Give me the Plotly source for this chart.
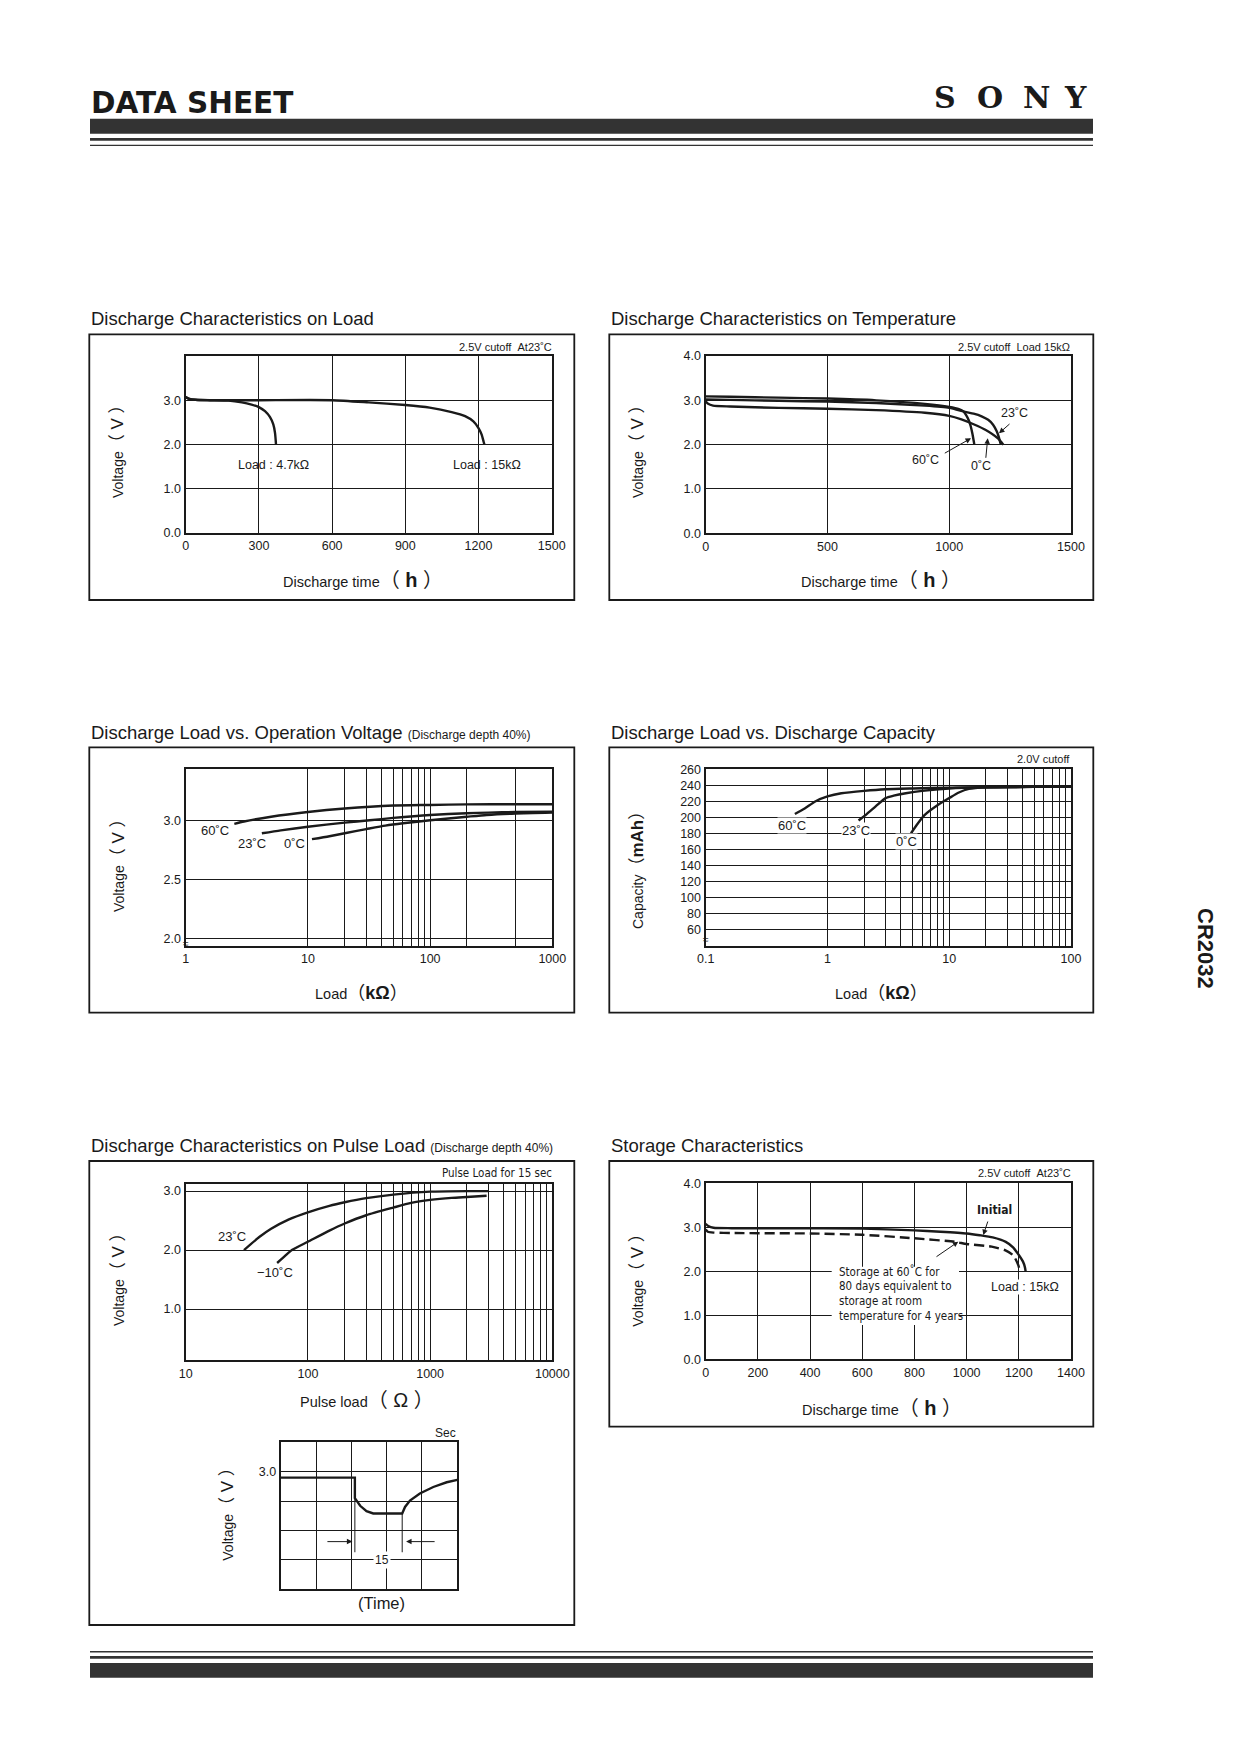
import plotly.graph_objects as go

# ------------------------------------------------------------------ data
# 1. Discharge Characteristics on Load (2.5V cutoff, 23C)
load_time_ticks = [0, 300, 600, 900, 1200, 1500]
load_volt_ticks = [0.0, 1.0, 2.0, 3.0]
load47_time = [0, 15, 40, 100, 175, 230, 270, 298, 325, 345, 359, 366, 369, 370]
load47_volt = [3.07, 3.03, 3.01, 3.0, 2.99, 2.95, 2.90, 2.85, 2.75, 2.62, 2.45, 2.26, 2.08, 2.0]
load15_time = [0, 15, 40, 100, 300, 600, 750, 900, 1000, 1090, 1145, 1179, 1200, 1213, 1221, 1224]
load15_volt = [3.07, 3.03, 3.01, 3.0, 3.0, 3.0, 2.95, 2.89, 2.83, 2.73, 2.64, 2.52, 2.37, 2.22, 2.06, 2.0]

# 2. Discharge Characteristics on Temperature (15k ohm)
temp_time_ticks = [0, 500, 1000, 1500]
temp_volt_ticks = [0.0, 1.0, 2.0, 3.0, 4.0]
t60_time = [0, 100, 300, 500, 700, 900, 1000, 1040, 1058, 1070, 1080, 1088, 1095, 1100, 1103]
t60_volt = [3.09, 3.08, 3.06, 3.04, 3.0, 2.92, 2.85, 2.80, 2.75, 2.66, 2.55, 2.42, 2.25, 2.10, 2.0]
t23_time = [0, 100, 300, 500, 700, 900, 1000, 1065, 1100, 1133, 1160, 1180, 1195, 1203, 1208, 1212]
t23_volt = [3.02, 3.01, 2.99, 2.97, 2.94, 2.88, 2.83, 2.74, 2.70, 2.64, 2.56, 2.45, 2.30, 2.18, 2.08, 2.0]
t0_time = [0, 10, 30, 100, 300, 500, 700, 900, 1000, 1050, 1100, 1150, 1200, 1222]
t0_volt = [2.98, 2.92, 2.88, 2.86, 2.83, 2.81, 2.78, 2.72, 2.65, 2.57, 2.46, 2.33, 2.14, 2.0]

# 3. Discharge Load vs. Operation Voltage (kOhm)
opv_load_ticks = [1, 10, 100, 1000]
opv_load_grid = [20, 30, 40, 50, 60, 70, 80, 90, 200, 500]
opv_volt_ticks = [2.0, 2.5, 3.0]
opv60_load = [2.5, 3, 5, 10, 20, 50, 100, 200, 500, 1000]
opv60_volt = [2.97, 2.99, 3.03, 3.07, 3.10, 3.125, 3.13, 3.135, 3.136, 3.136]
opv23_load = [4.2, 6, 10, 20, 32, 50, 100, 200, 300, 500, 1000]
opv23_volt = [2.89, 2.915, 2.945, 2.98, 3.0, 3.02, 3.045, 3.06, 3.065, 3.07, 3.072]
opv0_load = [10.8, 15, 20, 30, 43, 60, 100, 200, 290, 500, 1000]
opv0_volt = [2.84, 2.865, 2.89, 2.925, 2.955, 2.975, 3.0, 3.03, 3.045, 3.057, 3.065]

# 4. Discharge Load vs. Discharge Capacity (kOhm, mAh)
cap_load_ticks = [0.1, 1, 10, 100]
cap_load_grid = [2, 3, 4, 5, 6, 7, 8, 9, 20, 30, 40, 50, 60, 70, 80, 90]
cap_ticks = [60, 80, 100, 120, 140, 160, 180, 200, 220, 240, 260]
cap60_load = [0.54, 0.65, 0.8, 1.0, 1.3, 2, 3, 5, 10, 20, 50, 100]
cap60_mah = [204, 211, 220, 226, 230, 233, 235, 236, 237, 237.5, 238, 238]
cap23_load = [1.8, 2.1, 2.5, 3.0, 3.5, 4.4, 6, 10, 20, 50, 100]
cap23_mah = [196, 204, 214, 224, 227, 230, 233, 236, 237.5, 238, 238]
cap0_load = [4.85, 5.5, 6.3, 8, 10, 12, 14.5, 20, 50, 100]
cap0_mah = [180, 192, 203, 215, 224, 231, 235.5, 237.5, 238, 238]

# 5. Discharge Characteristics on Pulse Load (Ohm)
pulse_load_ticks = [10, 100, 1000, 10000]
pulse_load_grid = [200, 300, 400, 500, 600, 700, 800, 900,
                   2000, 3000, 4000, 5000, 6000, 7000, 8000, 9000]
pulse_volt_ticks = [1.0, 2.0, 3.0]
pulse23_load = [30, 40, 50, 70, 100, 150, 200, 300, 500, 1000, 2000, 3000]
pulse23_volt = [2.0, 2.22, 2.36, 2.52, 2.64, 2.75, 2.81, 2.88, 2.94, 2.99, 3.0, 3.0]
pulsem10_load = [56, 65, 74, 100, 150, 200, 300, 500, 700, 1000, 1500, 2000, 2900]
pulsem10_volt = [1.78, 1.90, 2.0, 2.14, 2.33, 2.45, 2.59, 2.72, 2.80, 2.85, 2.885, 2.90, 2.92]

# 5b. pulse waveform inset (grid divisions, V)
wave_div = [0, 2.1, 2.1, 2.25, 2.43, 2.62, 3.44, 3.52, 3.66, 3.94, 4.32, 4.70, 5.0]
wave_volt = [2.9, 2.9, 2.55, 2.42, 2.33, 2.29, 2.29, 2.40, 2.51, 2.63, 2.74, 2.82, 2.86]
wave_volt_ticks = [1.5, 2.0, 2.5, 3.0]
wave_volt_text = ["", "", "", "3.0"]

# 6. Storage Characteristics
stor_time_ticks = [0, 200, 400, 600, 800, 1000, 1200, 1400]
stor_volt_ticks = [0.0, 1.0, 2.0, 3.0, 4.0]
init_time = [0, 10, 30, 100, 300, 600, 800, 900, 1000, 1050, 1100, 1150, 1179, 1200, 1216, 1223, 1226]
init_volt = [3.08, 3.03, 2.99, 2.98, 2.98, 2.97, 2.93, 2.90, 2.86, 2.82, 2.77, 2.67, 2.54, 2.37, 2.22, 2.10, 2.0]
stored_time = [0, 8, 30, 100, 400, 600, 800, 955, 1000, 1096, 1147, 1179, 1198, 1204]
stored_volt = [2.95, 2.90, 2.88, 2.87, 2.86, 2.83, 2.75, 2.67, 2.62, 2.56, 2.48, 2.36, 2.14, 2.0]

# ------------------------------------------------------------------ style
PAGE_W, PAGE_H = 1240, 1754
OFF = 8                      # default body margin of the html page
W, H = PAGE_W - 2 * OFF, PAGE_H - 2 * OFF
INK = "#1a1a1a"
BAR = "#333333"
SANS = "Liberation Sans, Arial, Noto Sans CJK JP, sans-serif"
NARROW = "DejaVu Sans Condensed, sans-serif"
NB = "\u00a0"

fig = go.Figure()
shapes, anns = [], []


def px(x):
    return (x - OFF) / W


def py(y):
    return 1 - (y - OFF) / H


base_axis = dict(showline=True, linecolor=INK, linewidth=2.4, mirror=True,
                 showgrid=True, gridcolor=INK, gridwidth=1.2, zeroline=False,
                 ticks="", fixedrange=True, automargin=False,
                 tickfont=dict(family=SANS, size=12.5, color=INK))


def axes(i, box, xcfg, ycfg):
    x0, y0, x1, y1 = box
    xn = "xaxis" if i == 1 else f"xaxis{i}"
    yn = "yaxis" if i == 1 else f"yaxis{i}"
    xa = dict(base_axis, domain=[px(x0), px(x1)], anchor="y" if i == 1 else f"y{i}")
    xa.update(xcfg)
    ya = dict(base_axis, domain=[py(y1), py(y0)], anchor="x" if i == 1 else f"x{i}")
    ya.update(ycfg)
    fig.update_layout({xn: xa, yn: ya})


def curve(i, x, y, dash="solid", shape="spline", width=2.4):
    fig.add_trace(go.Scatter(
        x=x, y=y, mode="lines",
        line=dict(color=INK, width=width, dash=dash, shape=shape, smoothing=0.6),
        xaxis="x" if i == 1 else f"x{i}", yaxis="y" if i == 1 else f"y{i}",
        showlegend=False, hoverinfo="skip"))


def text(x, y, s, size=13, xanchor="center", family=SANS, bg=None, angle=0):
    anns.append(dict(x=px(x), y=py(y), xref="paper", yref="paper", text=s,
                     showarrow=False, xanchor=xanchor, yanchor="middle",
                     textangle=angle, borderpad=0,
                     bgcolor=bg if bg else "rgba(0,0,0,0)",
                     font=dict(family=family, size=size, color=INK)))


def arrow(tail, tip):
    anns.append(dict(x=px(tip[0]), y=py(tip[1]), xref="paper", yref="paper",
                     ax=tail[0] - tip[0], ay=tail[1] - tip[1], text="",
                     showarrow=True, arrowhead=2, arrowsize=1.1, arrowwidth=1,
                     arrowcolor=INK))


def rect(x0, y0, x1, y1, fill=None, lw=0.0):
    shapes.append(dict(type="rect", xref="paper", yref="paper",
                       x0=px(x0), x1=px(x1), y0=py(y1), y1=py(y0),
                       fillcolor=fill if fill else "rgba(0,0,0,0)",
                       line=dict(width=lw, color=INK), layer="above"))


def ytitle(x, y, word, unit):
    text(x, y, f"{word}<span style='font-size:17px'>（ {unit} ）</span>", size=14, angle=-90)


def xtitle(x, y, word, unit):
    text(x, y, f"{word}<span style='font-size:20px'>（ <b>{unit}</b> ）</span>", size=14.5)


# ------------------------------------------------------------------ header / footer
text(90, 102.5, "<b>DATA SHEET</b>", size=29.5, xanchor="left", family="DejaVu Sans, sans-serif")
for ch, cx in zip("SONY", [945, 990, 1036, 1075]):
    text(cx, 97.5, f"<b>{ch}</b>", size=30, family="DejaVu Serif, serif")
rect(90, 118.7, 1093, 133.7, BAR)
rect(90, 138, 1093, 140.7, BAR)
rect(90, 144.7, 1093, 146, BAR)
rect(90, 1651, 1093, 1652.5, BAR)
rect(90, 1656, 1093, 1658.7, BAR)
rect(90, 1663, 1093, 1677.7, BAR)
text(1205, 948, "<b>CR2032</b>", size=22, angle=90)

# ------------------------------------------------------------------ chart 1
text(90, 318, "Discharge Characteristics on Load", size=18.5, xanchor="left")
rect(89.3, 334.3, 574.3, 600, lw=1.8)
axes(1, (185.7, 356, 551.7, 532.7),
     dict(range=[0, 1500], tickmode="array", tickvals=load_time_ticks),
     dict(range=[0, 4], tickmode="array", tickvals=load_volt_ticks, tickformat=".1f"))
curve(1, load47_time, load47_volt)
curve(1, load15_time, load15_volt)
text(553.3, 346.7, f"2.5V cutoff{NB}{NB}At23˚C", size=11, xanchor="right")
text(273, 465, "Load : 4.7kΩ", size=12.5)
text(487, 465, "Load : 15kΩ", size=12.5)
ytitle(118, 447, "Voltage", "V")
xtitle(362.5, 580, "Discharge time", "h")

# ------------------------------------------------------------------ chart 2
text(610, 318, "Discharge Characteristics on Temperature", size=18.5, xanchor="left")
rect(609.3, 334.3, 1093.3, 600, lw=1.8)
axes(2, (705.7, 356, 1071, 533.3),
     dict(range=[0, 1500], tickmode="array", tickvals=temp_time_ticks),
     dict(range=[0, 4], tickmode="array", tickvals=temp_volt_ticks, tickformat=".1f"))
curve(2, t60_time, t60_volt)
curve(2, t23_time, t23_volt)
curve(2, t0_time, t0_volt)
text(1071, 347, f"2.5V cutoff{NB}{NB}Load 15kΩ", size=11, xanchor="right")
text(1014.3, 412.7, "23˚C", size=12.5)
text(925.7, 460, "60˚C", size=12.5)
text(981, 466, "0˚C", size=12.5)
arrow((1011, 422.7), (999, 433.3))
arrow((943.3, 454), (971, 438.3))
arrow((985.7, 459.3), (987.7, 438.3))
ytitle(638, 447, "Voltage", "V")
xtitle(880.5, 580, "Discharge time", "h")

# ------------------------------------------------------------------ chart 3
text(90, 733, "Discharge Load vs. Operation Voltage <span style='font-size:12px'>(Discharge depth 40%)</span>",
     size=18.5, xanchor="left")
rect(89.3, 747.3, 574.3, 1012.7, lw=1.8)
minor3 = dict(tickmode="array", tickvals=opv_load_grid, showgrid=True, gridcolor=INK, gridwidth=1.1, ticks="")
axes(3, (185.7, 769.3, 552.3, 946),
     dict(type="log", range=[0, 3], tickmode="array", tickvals=opv_load_ticks,
          ticktext=[str(v) for v in opv_load_ticks], minor=minor3),
     dict(range=[1.935, 3.432], tickmode="array", tickvals=opv_volt_ticks, tickformat=".1f"))
curve(3, opv60_load, opv60_volt)
curve(3, opv23_load, opv23_volt)
curve(3, opv0_load, opv0_volt)
text(215, 831, "60˚C", size=13)
text(252, 843, "23˚C", size=13)
text(294, 843, "0˚C", size=13)
text(186, 943, "≈", size=10)
ytitle(118, 861, "Voltage", "V")
text(361.5, 993.3, "Load<span style='font-size:18px'>（<b>kΩ</b>）</span>", size=14.5)

# ------------------------------------------------------------------ chart 4
text(610, 733, "Discharge Load vs. Discharge Capacity", size=18.5, xanchor="left")
rect(609.3, 747.3, 1093.3, 1012.7, lw=1.8)
minor4 = dict(tickmode="array", tickvals=cap_load_grid, showgrid=True, gridcolor=INK, gridwidth=1.1, ticks="")
axes(4, (705.7, 769.3, 1071, 946),
     dict(type="log", range=[-1, 2], tickmode="array", tickvals=cap_load_ticks,
          ticktext=[str(v) for v in cap_load_ticks], minor=minor4),
     dict(range=[39, 260], tickmode="array", tickvals=cap_ticks))
curve(4, cap60_load, cap60_mah)
curve(4, cap23_load, cap23_mah)
curve(4, cap0_load, cap0_mah)
text(1071, 759.3, "2.0V cutoff", size=11, xanchor="right")
text(792.3, 825, "60˚C", size=13, bg="white")
text(855.5, 830, "23˚C", size=13, bg="white")
text(906.8, 841.7, "0˚C", size=13, bg="white")
text(706, 940, "≈", size=10)
text(638, 866, "Capacity<span style='font-size:17px'>（<b>mAh</b>）</span>", size=14, angle=-90)
text(881.7, 993.3, "Load<span style='font-size:18px'>（<b>kΩ</b>）</span>", size=14.5)

# ------------------------------------------------------------------ chart 5
text(90, 1145.7, "Discharge Characteristics on Pulse Load <span style='font-size:12px'>(Discharge depth 40%)</span>",
     size=18.5, xanchor="left")
rect(89.3, 1161, 574.3, 1625, lw=1.8)
minor5 = dict(tickmode="array", tickvals=pulse_load_grid, showgrid=True, gridcolor=INK, gridwidth=1.1, ticks="")
axes(5, (185.7, 1184, 552.3, 1360.3),
     dict(type="log", range=[1, 4], tickmode="array", tickvals=pulse_load_ticks,
          ticktext=[str(v) for v in pulse_load_ticks], minor=minor5),
     dict(range=[0.13, 3.12], tickmode="array", tickvals=pulse_volt_ticks, tickformat=".1f"))
curve(5, pulse23_load, pulse23_volt)
curve(5, pulsem10_load, pulsem10_volt)
text(552.7, 1172.7, "Pulse Load for 15 sec", size=11.5, xanchor="right", family=NARROW)
text(232, 1236.7, "23˚C", size=13)
text(275, 1272, "−10˚C", size=13)
ytitle(118, 1275, "Voltage", "V")
text(367, 1400, "Pulse load<span style='font-size:20px'>（ Ω ）</span>", size=14.5)

# inset waveform
axes(7, (280.7, 1442.3, 457.3, 1589.3),
     dict(range=[0, 5], dtick=1, showticklabels=False, linewidth=2),
     dict(range=[1.0, 3.5], tickmode="array", tickvals=wave_volt_ticks, ticktext=wave_volt_text, linewidth=2))
curve(7, wave_div, wave_volt, shape="linear")
text(457, 1433, "Sec", size=12, xanchor="right")
ytitle(226.7, 1510, "Voltage", "V")
text(381.7, 1603.3, "(Time)", size=16.5)
for xv, ytop in [(2.1, 2.9), (3.44, 2.29)]:
    shapes.append(dict(type="line", xref="x7", yref="y7", x0=xv, x1=xv, y0=ytop, y1=1.63,
                       line=dict(color=INK, width=1), layer="above"))
for tail, tip in [(1.28, 2.03), (4.40, 3.55)]:
    anns.append(dict(x=tip, y=1.811, xref="x7", yref="y7", ax=tail, ay=1.811,
                     axref="x7", ayref="y7", text="", showarrow=True, arrowhead=2,
                     arrowsize=1.1, arrowwidth=1, arrowcolor=INK))
anns.append(dict(x=2.86, y=1.5, xref="x7", yref="y7", text="15", showarrow=False,
                 bgcolor="white", font=dict(family=SANS, size=12, color=INK)))

# ------------------------------------------------------------------ chart 6
text(610, 1145.7, "Storage Characteristics", size=18.5, xanchor="left")
rect(609.3, 1161, 1093.3, 1426.7, lw=1.8)
axes(6, (705.7, 1183.3, 1071, 1359.3),
     dict(range=[0, 1400], tickmode="array", tickvals=stor_time_ticks),
     dict(range=[0, 4], tickmode="array", tickvals=stor_volt_ticks, tickformat=".1f"))
curve(6, init_time, init_volt)
curve(6, stored_time, stored_volt, dash="10px,5px")
text(1071.7, 1173, f"2.5V cutoff{NB}{NB}At23˚C", size=11, xanchor="right")
rect(831.7, 1266.7, 959, 1325, "white")
for k, line_txt in enumerate(["Storage at 60˚C for", "80 days equivalent to",
                              "storage at room", "temperature for 4 years"]):
    text(837.7, 1271.7 + 14.7 * k, line_txt, size=11.5, xanchor="left", family=NARROW)
text(994, 1210, "<b>Initial</b>", size=12, family=NARROW)
arrow((988.3, 1220), (983.3, 1235))
arrow((935, 1257.7), (958.3, 1241.7))
text(1025, 1287.3, "Load : 15kΩ", size=12.5, bg="white")
ytitle(638, 1275.7, "Voltage", "V")
xtitle(882, 1407.7, "Discharge time", "h")

fig.update_layout(width=W, height=H, autosize=False,
                  margin=dict(l=0, r=0, t=0, b=0, pad=0, autoexpand=False),
                  paper_bgcolor="white", plot_bgcolor="white",
                  shapes=shapes, annotations=anns, showlegend=False)

fig.write_html("out.html", config={"displayModeBar": False})
